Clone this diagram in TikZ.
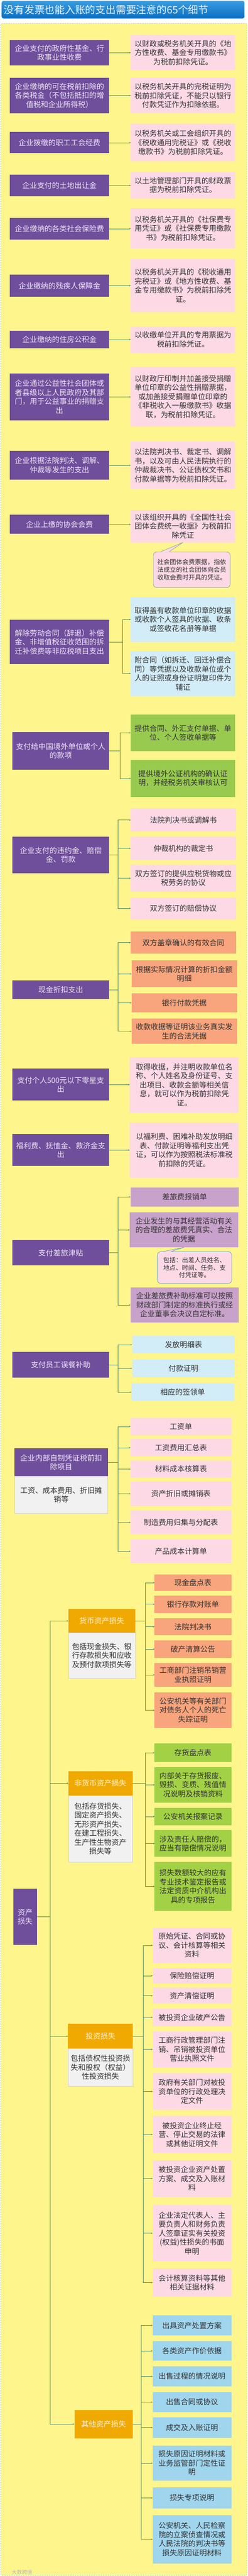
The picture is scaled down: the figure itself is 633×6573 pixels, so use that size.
\documentclass[tikz,border=0pt]{standalone}
\usepackage{fontspec}
\setmainfont{Noto Sans CJK SC}
\usetikzlibrary{calc,arrows.meta}
\definecolor{ttlA}{HTML}{3A9BE0}
\definecolor{ttlB}{HTML}{0B6FC2}
\definecolor{ylw}{HTML}{FEF58C}
\definecolor{ylwbd}{HTML}{86CFA4}
\definecolor{purp}{HTML}{6F4E9B}
\definecolor{purptxt}{HTML}{EEE4F6}
\definecolor{pinkc}{HTML}{FDD9E6}
\definecolor{lblue}{HTML}{D2ECF8}
\definecolor{grn}{HTML}{98CA50}
\definecolor{grnb}{HTML}{A2D146}
\definecolor{salm}{HTML}{F8A47C}
\definecolor{mauv}{HTML}{C8A2CA}
\definecolor{orng}{HTML}{F0A900}
\definecolor{orngtxt}{HTML}{FFF3DA}
\definecolor{greyd}{HTML}{F1F1F1}
\definecolor{bluec}{HTML}{A0D5EE}
\definecolor{lnk}{HTML}{55876A}
\definecolor{txt}{HTML}{333333}
\definecolor{cbdA}{HTML}{7E9C8C}
\definecolor{cbdB}{HTML}{4C9CB4}
\newcommand\boxfont{\fontsize{19}{23}\selectfont}
\newcommand\smallfont{\fontsize{16}{19.5}\selectfont}
\newcommand\bx[7]{\node[#2, minimum width={(#5)-(#3)}, minimum height={(#6)-(#4)}] (#1) at ({((#3)+(#5))/2},{((#4)+(#6))/2}) {#7};}
\begin{document}
\begin{tikzpicture}[x=1pt,y=-1pt,
  base/.style={inner sep=0pt, outer sep=0pt, align=center, font=\boxfont, text=txt},
  purpbox/.style={base, fill=purp, text=purptxt},
  pinkbox/.style={base, fill=pinkc},
  lbluebox/.style={base, fill=lblue},
  greenbox/.style={base, fill=grn},
  grnbbox/.style={base, fill=grnb},
  salmbox/.style={base, fill=salm},
  mauvebox/.style={base, fill=mauv},
  orangebox/.style={base, fill=orng, text=orngtxt},
  greybox/.style={base, fill=greyd, draw=gray!35, line width=0.6pt},
  bluebox/.style={base, fill=bluec},
  calloutA/.style={base, font=\smallfont, fill=pinkc, draw=cbdA, line width=0.8pt, rounded corners=9pt},
  calloutB/.style={base, font=\smallfont, fill=pinkc, draw=cbdB, line width=0.8pt, rounded corners=9pt},
  conn/.style={draw=lnk, line width=0.8pt, -{Stealth[length=4pt,width=3.5pt]}}
]
\useasboundingbox (0,0) rectangle (633,6573);
\fill[white] (0,0) rectangle (633,6573);
% title
\node[top color=ttlA, bottom color=ttlB, rounded corners=5pt, anchor=north west,
  minimum height=45, text width=608.5, inner xsep=6pt, inner ysep=0pt, align=left,
  font=\fontsize{26}{30}\selectfont, text=white!88!ttlA] (title) at (4,2) {没有发票也能入账的支出需要注意的65个细节};
% background
\draw[fill=ylw, draw=ylwbd, dashed, line width=0.8pt, rounded corners=3pt] (2,60) rectangle (631,6571);

% ---- single items
\bx{L1}{purpbox}{25}{102}{279}{167}{企业支付的政府性基金、行\\政事业性收费}
\bx{R1}{pinkbox}{334}{89.5}{601}{179}{以财政或税务机关开具的《地\\方性收费、基金专用缴款书》\\为税前扣除凭证。}
\bx{L2}{purpbox}{25}{198}{279}{289.5}{企业缴纳的可在税前扣除的\\各类税金（不包括抵扣的增\\值税和企业所得税）}
\bx{R2}{pinkbox}{334}{199}{601}{289.5}{以税务机关开具的完税证明为\\税前扣除凭证，不能只以银行\\付款凭证作为扣除依据。}
\bx{L3}{purpbox}{25}{337}{279}{391}{企业拨缴的职工工会经费}
\bx{R3}{pinkbox}{334}{316}{601}{412}{以税务机关或工会组织开具的\\《税收通用完税证》或《税收\\缴款书》为税前扣除凭证。}
\bx{L4}{purpbox}{25}{446}{279}{501}{企业支付的土地出让金}
\bx{R4}{pinkbox}{334}{438.6}{601}{507}{以土地管理部门开具的财政票\\据为税前扣除凭证。}
\bx{L5}{purpbox}{25}{556}{279}{611}{企业缴纳的各类社会保险费}
\bx{R5}{pinkbox}{334}{531.6}{601}{634}{以税务机关开具的《社保费专\\用凭证》或《社保费专用缴款\\书》为税前扣除凭证。}
\bx{L6}{purpbox}{25}{701}{279}{757}{企业缴纳的残疾人保障金}
\bx{R6}{pinkbox}{334}{661}{601}{797}{以税务机关开具的《税收通用\\完税证》或《地方性收费、基\\金专用缴款书》为税前扣除凭\\证。}
\bx{L7}{purpbox}{25}{843.5}{279}{889}{企业缴纳的住房公积金}
\bx{R7}{pinkbox}{334}{833}{601}{900}{以收缴单位开具的专用票据为\\税前扣除凭证。}
\bx{L8}{purpbox}{25}{953}{279}{1072.5}{企业通过公益性社会团体或\\者县级以上人民政府及其部\\门，用于公益事业的捐赠支\\出}
\bx{R8}{pinkbox}{334}{936}{601}{1088}{以财政厅印制并加盖接受捐赠\\单位印章的公益性捐赠票据，\\或加盖接受捐赠单位印章的\\《非税收入一般缴款书》收据\\联，为税前扣除凭证。}
\bx{L9}{purpbox}{25}{1150}{279}{1224}{企业根据法院判决、调解、\\仲裁等发生的支出}
\bx{R9}{pinkbox}{334}{1127}{601}{1248}{以法院判决书、裁定书、调解\\书，以及可由人民法院执行的\\仲裁裁决书、公证债权文书和\\付款单据等为税前扣除凭证。}
\bx{L10}{purpbox}{25}{1313.5}{279}{1362}{企业上缴的协会会费}
\bx{R10}{pinkbox}{334}{1301}{601}{1384}{以该组织开具的《全国性社会\\团体会费统一收据》为税前扣\\除凭证}
\bx{C1}{calloutA}{392}{1408}{588}{1499.5}{社会团体会费票据，指依\\法成立的社会团体向会员\\收取会费时开具的凭证。}
\fill[pinkc] ($(C1.north west)+(18,1)$) -- (R10.south) -- ($(C1.north west)+(40,1)$) -- cycle;
\draw[cbdA, line width=0.8pt] ($(C1.north west)+(18,0)$) -- (R10.south) -- ($(C1.north west)+(40,0)$);
\foreach \i in {1,...,10} {\draw[conn] (L\i.east) -- (L\i.east -| R\i.west);}

% ---- item 11
\bx{L11}{purpbox}{25}{1582}{279}{1695}{解除劳动合同（辞退）补偿\\金、非增值税征收范围的拆\\迁补偿费等非应税项目支出}
\bx{R11a}{lbluebox}{334}{1523}{601}{1638}{取得盖有收款单位印章的收据\\或收款个人签具的收据、收条\\或签收花名册等单据}
\bx{R11b}{lbluebox}{334}{1661.5}{601}{1775.6}{附合同（如拆迁、回迁补偿合\\同）等凭据以及收款单位或个\\人的证照或身份证明复印件为\\辅证}
\foreach \k in {a,b} {\draw[conn] (L11.east) -- ++(34,0) |- (R11\k.west);}

% ---- item 12
\bx{L12}{purpbox}{31.5}{1868.5}{279}{1964}{支付给中国境外单位或个人\\的款项}
\bx{R12a}{greenbox}{334}{1823}{601}{1917}{提供合同、外汇支付单据、单\\位、个人签收单据等}
\bx{R12b}{greenbox}{334}{1938.7}{601}{2033.5}{提供境外公证机构的确认证\\明，并经税务机关审核认可}
\foreach \k in {a,b} {\draw[conn] (L12.east) -- ++(28,0) |- (R12\k.west);}

% ---- item 13
\bx{L13}{purpbox}{31.5}{2134.5}{279}{2228}{企业支付的违约金、赔偿\\金、罚款}
\bx{R13a}{pinkbox}{334}{2063}{603}{2122}{法院判决书或调解书}
\bx{R13b}{pinkbox}{334}{2135}{603}{2194}{仲裁机构的裁定书}
\bx{R13c}{pinkbox}{334}{2206}{603}{2275.5}{双方签订的提供应税货物或应\\税劳务的协议}
\bx{R13d}{pinkbox}{334}{2289.5}{603}{2346}{双方签订的赔偿协议}
\foreach \k in {a,b,c,d} {\draw[conn] (L13.east) -- ++(23,0) |- (R13\k.west);}

% ---- item 14
\bx{L14}{purpbox}{31.5}{2501.5}{279}{2549}{现金折扣支出}
\bx{R14a}{salmbox}{334}{2377}{603}{2433.4}{双方盖章确认的有效合同}
\bx{R14b}{salmbox}{336}{2451}{605.5}{2519}{根据实际情况计算的折扣金额\\明细}
\bx{R14c}{salmbox}{336}{2535}{605.5}{2583}{银行付款凭据}
\bx{R14d}{salmbox}{336}{2599}{605.5}{2664}{收款收据等证明该业务真实发\\生的合法凭据}
\foreach \k in {a,b,c,d} {\draw[conn] (L14.east) -- ++(23,0) |- (R14\k.west);}

% ---- items 15,16
\bx{L15}{purpbox}{31.5}{2727}{279}{2808.4}{支付个人500元以下零星支\\出}
\bx{R15}{pinkbox}{331.5}{2697}{610}{2839}{取得收据，并注明收款单位名\\称、个人姓名及身份证号、支\\出项目、收款金额等相关信\\息，就可以作为税前扣除凭\\证。}
\bx{L16}{purpbox}{31.5}{2894}{279}{2975}{福利费、抚恤金、救济金支\\出}
\bx{R16}{pinkbox}{331.5}{2864.6}{610}{3005}{以福利费、困难补助发放明细\\表、付款证明等福利支出凭\\证，可以作为按照税法标准税\\前扣除的凭证。}
\foreach \i in {15,16} {\draw[conn] (L\i.east) -- (L\i.east -| R\i.west);}

% ---- item 17
\bx{L17}{purpbox}{31.5}{3164.6}{279}{3228.4}{支付差旅津贴}
\bx{R17a}{mauvebox}{333.5}{3029.5}{610}{3078.6}{差旅费报销单}
\bx{R17b}{mauvebox}{331.5}{3093.7}{608}{3182.8}{企业发生的与其经营活动有关\\的合理的差旅费凭真实、合法\\的凭据}
\bx{C2}{calloutB}{402}{3193.7}{592}{3275}{包括：出差人员姓名、\\地点、时间、任务、支\\付凭证等。}
\fill[pinkc] ($(C2.north west)+(14,1)$) -- (R17b.south) -- ($(C2.north west)+(34,1)$) -- cycle;
\draw[cbdB, line width=0.8pt] ($(C2.north west)+(14,0)$) -- (R17b.south) -- ($(C2.north west)+(34,0)$);
\bx{R17c}{mauvebox}{333.5}{3285.6}{610}{3374}{企业差旅费补助标准可以按照\\财政部门制定的标准执行或经\\企业董事会决议自定标准。}
\foreach \k in {a,b,c} {\draw[conn] (L17.east) -- ++(22,0) |- (R17\k.west);}

% ---- item 18
\bx{L18}{purpbox}{31.5}{3450}{279}{3515}{支付员工误餐补助}
\bx{R18a}{lbluebox}{337.5}{3409}{600}{3453.6}{发放明细表}
\bx{R18b}{lbluebox}{337.5}{3468.7}{600}{3514}{付款证明}
\bx{R18c}{lbluebox}{335.5}{3529.4}{598}{3575}{相应的签领单}
\foreach \k in {a,b,c} {\draw[conn] (L18.east) -- ++(22,0) |- (R18\k.west);}

% ---- item 19
\bx{L19}{purpbox}{37}{3695.7}{275.7}{3767}{企业内部自制凭证税前扣\\除项目}
\bx{G19}{greybox}{37}{3767}{275.7}{3861}{工资、成本费用、折旧摊\\销等}
\bx{R19a}{pinkbox}{333.5}{3618}{591}{3662}{工资单}
\bx{R19b}{pinkbox}{333.5}{3672}{591}{3716}{工资费用汇总表}
\bx{R19c}{pinkbox}{333.5}{3726.6}{591}{3770.5}{材料成本核算表}
\bx{R19d}{pinkbox}{333.5}{3781}{591}{3842}{资产折旧或摊销表}
\bx{R19e}{pinkbox}{333.5}{3854}{591}{3915}{制造费用归集与分配表}
\bx{R19f}{pinkbox}{333.5}{3928}{591}{3988.6}{产品成本计算单}
\foreach \k in {a,b,c,d,e,f} {\draw[conn] (L19.east) -- ++(25.3,0) |- (R19\k.west);}

% ---- asset losses
\bx{ZC}{purpbox}{34.4}{4819}{94}{4963}{资产\\损失}
% money assets
\bx{HA}{orangebox}{174.6}{4105.5}{345.6}{4166.5}{货币资产损失}
\bx{DA}{greybox}{174.6}{4166.5}{345.6}{4282}{包括现金损失、银\\行存款损失和应收\\及预付款项损失等}
\bx{A1}{salmbox}{395}{4018}{591}{4059}{现金盘点表}
\bx{A2}{salmbox}{395}{4071}{591}{4115.6}{银行存款对账单}
\bx{A3}{salmbox}{395}{4129}{591}{4173}{法院判决书}
\bx{A4}{salmbox}{395}{4186}{591}{4230}{破产清算公告}
\bx{A5}{salmbox}{395}{4243}{591}{4304}{工商部门注销吊销营\\业执照证明}
\bx{A6}{salmbox}{395}{4318.5}{591}{4409}{公安机关等有关部门\\对债务人个人的死亡\\失踪证明}
\foreach \k in {1,...,6} {\draw[conn] (HA.east) -- ++(25.4,0) |- (A\k.west);}
% non-money assets
\bx{HB}{orangebox}{174.6}{4519}{338.7}{4581}{非货币资产损失}
\bx{DB}{greybox}{174.6}{4581}{338.7}{4751.7}{包括存货损失、\\固定资产损失、\\无形资产损失、\\在建工程损失、\\生产性生物资产\\损失等}
\bx{B1}{grnbbox}{395}{4449}{591}{4496}{存货盘点表}
\bx{B2}{grnbbox}{395}{4508.6}{591}{4600}{内部关于存货报废、\\毁损、变质、残值情\\况说明及核销资料}
\bx{B3}{grnbbox}{395}{4613}{591}{4657}{公安机关报案记录}
\bx{B4}{grnbbox}{395}{4670}{591}{4738}{涉及责任人赔偿的，\\应当有赔偿情况说明}
\bx{B5}{grnbbox}{395}{4750.7}{591}{4876}{损失数额较大的应有\\专业技术鉴定报告或\\法定资质中介机构出\\具的专项报告}
\foreach \k in {1,...,5} {\draw[conn] (HB.east) -- ++(32.3,0) |- (B\k.west);}
% investment
\bx{HC}{orangebox}{174}{5164}{339.5}{5227}{投资损失}
\bx{DC}{greybox}{174}{5227}{339.5}{5323}{包括债权性投资损\\失和股权（权益）\\性投资损失}
\bx{I1}{pinkbox}{390}{4919}{591}{5008.5}{原始凭证、合同或协\\议、会计核算等相关\\资料}
\bx{I2}{pinkbox}{390}{5021.5}{591}{5061}{保险赔偿证明}
\bx{I3}{pinkbox}{390}{5072}{591}{5112.7}{资产清偿证明}
\bx{I4}{pinkbox}{390}{5125.7}{591}{5170}{被投资企业破产公告}
\bx{I5}{pinkbox}{390}{5183}{591}{5275}{工商行政管理部门注\\销、吊销被投资单位\\营业执照文件}
\bx{I6}{pinkbox}{390}{5290}{591}{5383}{政府有关部门对被投\\资单位的行政处理决\\定文件}
\bx{I7}{pinkbox}{390}{5398.7}{591}{5494}{被投资企业终止经\\营、停止交易的法律\\或其他证明文件}
\bx{I8}{pinkbox}{390}{5512}{591}{5605.6}{被投资企业资产处置\\方案、成交及入账材\\料}
\bx{I9}{pinkbox}{390}{5627}{591}{5769.5}{企业法定代表人、主\\要负责人和财务负责\\人签章证实有关投资\\(权益)性损失的书面\\申明}
\bx{I10}{pinkbox}{390}{5788}{591}{5860.7}{会计核算资料等其他\\相关证据材料}
\foreach \k in {1,...,10} {\draw[conn] (HC.east) -- ++(26.5,0) |- (I\k.west);}
% other
\bx{HD}{orangebox}{190}{6149}{339.5}{6221.7}{其他资产损失}
\bx{O1}{bluebox}{390}{5908}{591}{5959}{出具资产处置方案}
\bx{O2}{bluebox}{390}{5973}{591}{6024}{各类资产作价依据}
\bx{O3}{bluebox}{390}{6038}{591}{6089}{出售过程的情况说明}
\bx{O4}{bluebox}{390}{6103.4}{591}{6155}{出售合同或协议}
\bx{O5}{bluebox}{390}{6168}{591}{6220}{成交及入账证明}
\bx{O6}{bluebox}{390}{6240}{591}{6330}{损失原因证明材料或\\业务监管部门定性证\\明}
\bx{O7}{bluebox}{390}{6346.6}{591}{6400.6}{损失专项说明}
\bx{O8}{bluebox}{390}{6417.5}{591}{6541}{公安机关、人民检察\\院的立案侦查情况或\\人民法院的判决书等\\损失原因证明材料}
\foreach \k in {1,...,8} {\draw[conn] (HD.east) -- ++(20.5,0) |- (O\k.west);}
% trunk
\foreach \h in {HA,HB,HC,HD} {\draw[conn] (ZC.east) -- ++(34.5,0) |- (\h.west);}

% watermark
\node[anchor=west, font=\fontsize{13}{14}\selectfont, text=gray!55, inner sep=0pt] (wm) at (30,6564) {大数跨境};
\end{tikzpicture}
\end{document}
